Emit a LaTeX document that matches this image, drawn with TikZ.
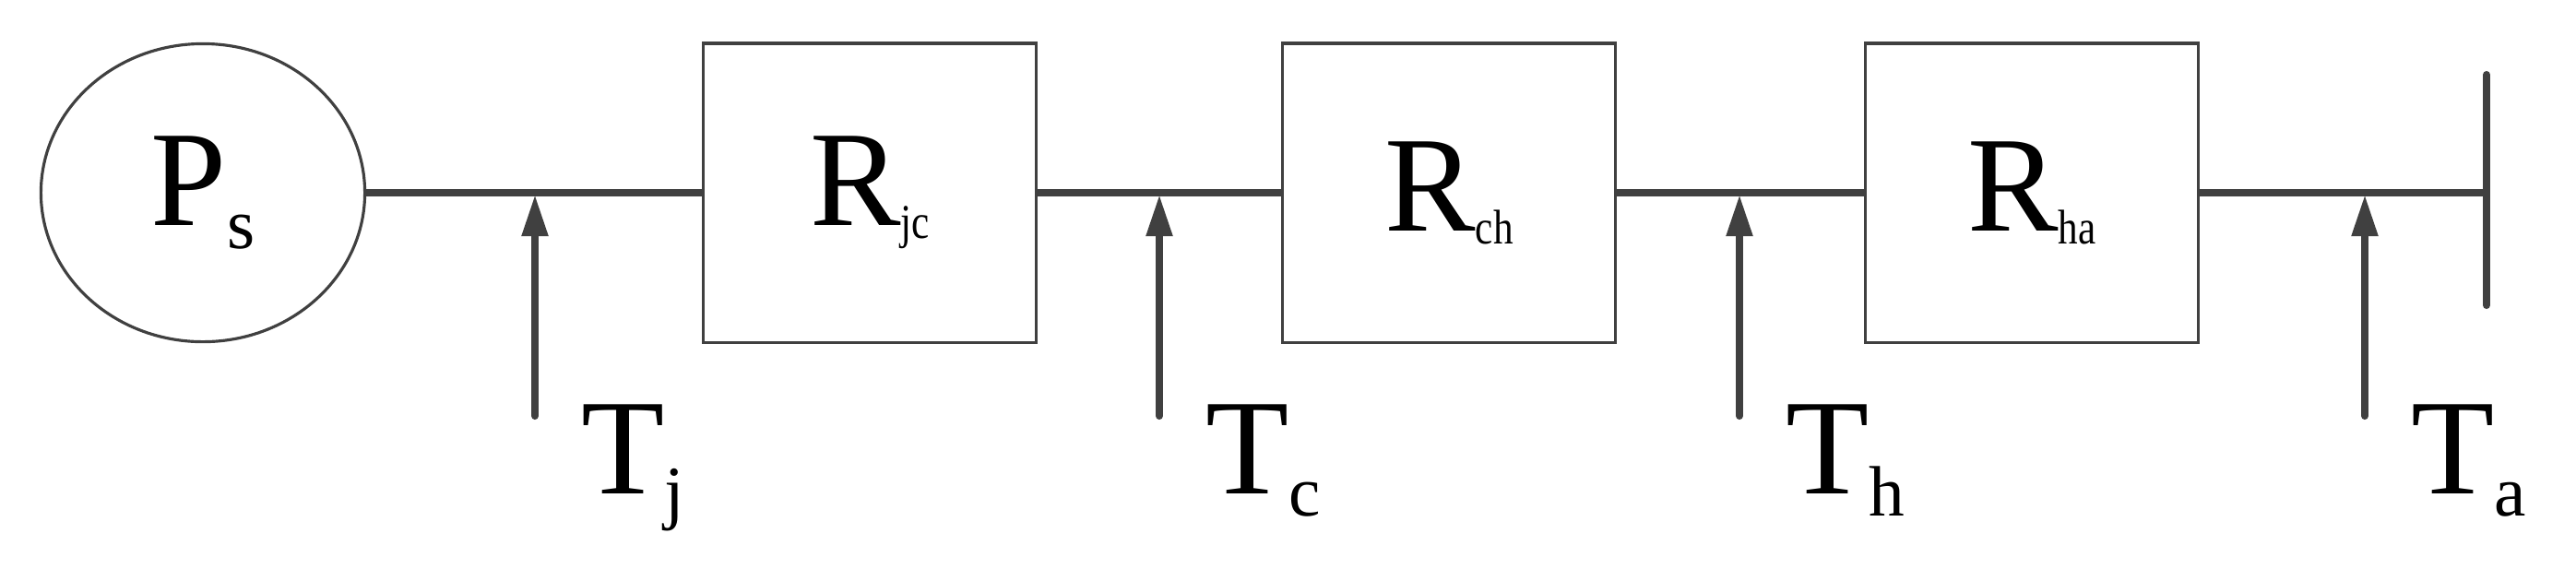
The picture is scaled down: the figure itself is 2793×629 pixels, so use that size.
\documentclass[tikz,border=0pt]{standalone}
\usepackage{fontspec}
\setmainfont{Liberation Serif}
\usetikzlibrary{arrows.meta,shapes.geometric}
\definecolor{ln}{HTML}{404040}
\newcommand{\mysub}[1]{\raisebox{-7pt}{\fontsize{22}{22}\selectfont #1}}
\newcommand{\rsub}[1]{\raisebox{-4pt}{\scalebox{0.82}[1]{\fontsize{15}{15}\selectfont #1}}}
\begin{document}
\begin{tikzpicture}[x=0.01cm,y=-0.01cm,
  big/.style={font=\fontsize{42}{42}\selectfont, inner sep=0pt},
  blk/.style={draw=ln, line width=0.9pt, minimum width=3.6cm, minimum height=3.24cm, big},
  wire/.style={draw=ln, line width=2.3pt},
  probe/.style={draw=ln, line width=2.3pt, -{Triangle[length=0.45cm,width=0.27cm]}, line cap=round},
  lab/.style={big, anchor=base west}]
\useasboundingbox (0,0) rectangle (2793,629);
\node[draw=ln, line width=0.9pt, ellipse, minimum width=3.51cm, minimum height=3.23cm, big] (ps) at (220,209) {P\mysub{s}};
\node[blk] (r1) at (943,209) {R\rsub{jc}};
\node[blk] (r2) at (1571,209) {R\rsub{ch}};
\node[blk] (r3) at (2203,209) {R\rsub{ha}};
\coordinate (bt) at (2696,81);
\coordinate (bb) at (2696,331);
\coordinate (bm) at (2696,209);
\draw[wire, line cap=round] (bt) -- (bb);
\draw[wire] (ps.east) -- (r1.west);
\draw[wire] (r1.east) -- (r2.west);
\draw[wire] (r2.east) -- (r3.west);
\draw[wire] (r3.east) -- (bm);
\foreach \n/\x/\s in {j/580/j, c/1257/c, h/1886/h, a/2564/a}{
  \coordinate (b\n) at (\x,451);
  \coordinate (t\n) at (\x,211);
  \draw[probe] (b\n) -- (t\n);
  \node[lab] (T\n) at (\x+50,535) {T\mysub{\s}};
}
\end{tikzpicture}
\end{document}
